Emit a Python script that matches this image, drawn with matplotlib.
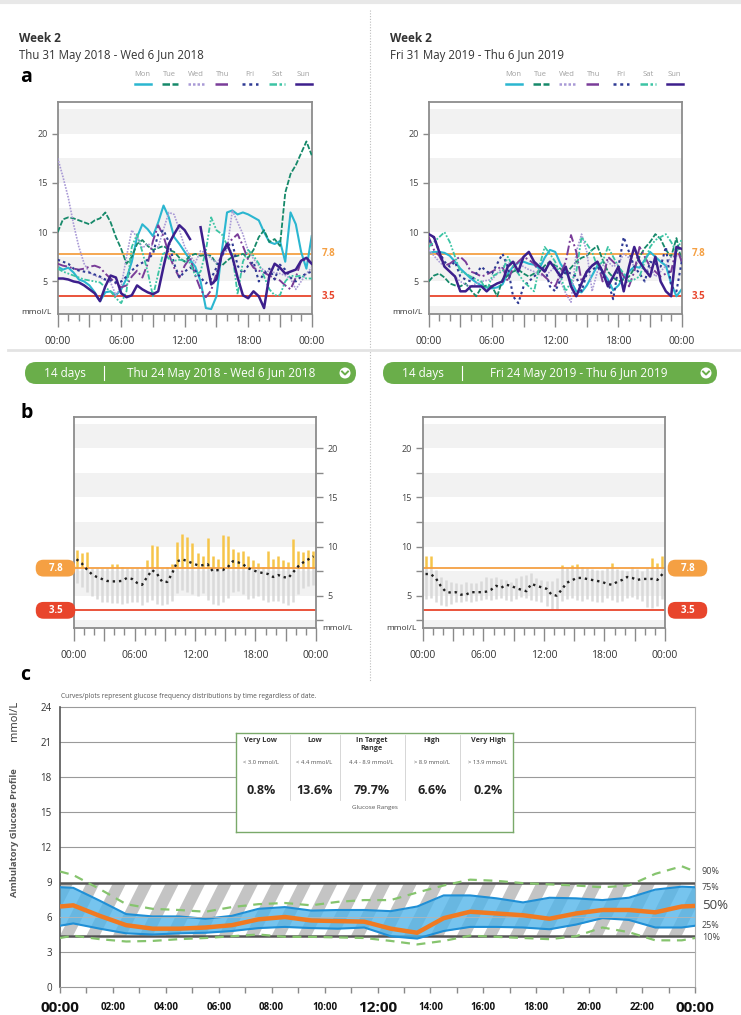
import numpy as np
import matplotlib
matplotlib.use('Agg')
import matplotlib.pyplot as plt
from matplotlib.patches import FancyBboxPatch, Polygon, Rectangle, Circle

plt.rcParams['font.family'] = ['Open Sans', 'DejaVu Sans']

W, H = 741, 1015

# ---------------- data ----------------
# panel a : daily traces, one reading every 30 min (00:00 ... 24:00)
t_day = np.arange(0, 24.5, 0.5)
days = ['Mon', 'Tue', 'Wed', 'Thu', 'Fri', 'Sat', 'Sun']

mon_2018 = [6.5, 6.2, 6.4, 5.9, 5.2, 5.0, 4.6, 3.9, 3.0, 3.9, 4.0, 3.6, 4.2, 5.3, 7.0, 9.5, 10.8, 10.3, 9.6, 11.0,
            12.7, 11.5, 9.5, 8.8, 8.0, 7.2, 6.5, 5.0, 2.3, 2.2, 3.5, 8.0, 12.0, 12.2, 11.8, 12.0, 11.8, 11.5, 11.2,
            10.0, 9.0, 8.8, 9.1, 7.0, 12.0, 10.8, 8.0, 6.3, 9.6]
tue_2018 = [10.0, 11.3, 11.5, 11.4, 11.2, 11.0, 10.8, 11.2, 11.4, 12.0, 11.0, 9.5, 8.3, 6.8, 7.5, 8.8, 9.2, 8.6, 8.2,
            8.4, 8.6, 8.2, 8.0, 7.4, 7.0, 7.6, 7.8, 7.6, 7.7, 7.6, 6.8, 6.6, 7.1, 7.5, 7.6, 7.8, 7.4, 8.2, 9.5, 10.2,
            9.0, 9.3, 8.6, 14.0, 15.9, 16.8, 18.0, 19.2, 17.8]
wed_2018 = [17.5, 15.6, 13.5, 10.8, 8.5, 6.8, 5.9, 5.6, 5.4, 5.1, 4.9, 3.6, 4.5, 7.5, 10.2, 9.5, 8.4, 8.8, 8.6, 8.5,
            10.3, 12.0, 11.8, 10.2, 8.5, 7.6, 6.9, 8.1, 7.9, 7.3, 6.9, 7.5, 8.2, 12.2, 11.0, 9.8, 8.1, 7.3, 6.6, 6.1,
            6.0, 5.9, 5.8, 5.6, 5.3, 4.2, 5.0, 5.8, 6.4]
thu_2018 = [6.8, 6.6, 6.5, 6.3, 6.2, 6.3, 6.5, 6.6, 6.4, 5.8, 5.3, 4.8, 4.4, 4.6, 5.5, 6.1, 5.4, 6.8, 9.1, 10.7,
            9.6, 7.8, 6.4, 5.4, 6.6, 7.4, 5.6, 4.2, 3.4, 4.1, 5.8, 7.5, 8.8, 9.3, 9.8, 8.6, 7.2, 6.4, 6.1, 5.9, 5.6,
            5.3, 5.1, 4.6, 4.2, 5.4, 7.1, 7.2, 6.8]
fri_2018 = [7.2, 7.0, 6.8, 6.3, 6.1, 6.0, 5.9, 5.7, 5.5, 5.2, 5.1, 4.9, 5.0, 5.5, 6.1, 6.6, 6.9, 7.2, 7.8, 9.8,
            10.2, 9.0, 6.8, 5.4, 6.0, 6.4, 6.1, 5.4, 4.8, 5.3, 6.4, 7.6, 8.6, 8.9, 6.6, 5.8, 6.6, 7.0, 5.0, 5.8,
            6.3, 5.2, 6.7, 6.2, 5.4, 5.0, 5.5, 5.8, 6.0]
sat_2018 = [6.3, 6.0, 5.8, 5.6, 5.4, 5.2, 5.1, 5.0, 4.9, 4.4, 4.0, 3.3, 2.8, 4.0, 8.5, 9.8, 8.0, 6.0, 3.5, 5.8,
            8.0, 7.3, 7.1, 7.2, 7.1, 6.9, 5.6, 6.0, 8.1, 11.5, 10.2, 9.8, 8.7, 7.8, 3.7, 7.0, 8.2, 7.6, 6.8, 5.5,
            4.2, 3.6, 3.6, 5.0, 5.6, 5.5, 5.6, 5.3, 5.3]
sun_2018 = [5.3, 5.3, 5.2, 5.0, 4.9, 4.6, 4.2, 3.8, 3.0, 4.5, 5.6, 5.4, 3.8, 3.4, 3.6, 4.6, 4.2, 3.9, 3.7, 4.0,
            6.5, 8.8, 9.8, 10.7, 10.2, 9.3, np.nan, 10.5, 7.5, 4.7, 5.2, 7.8, 8.8, 7.5, 5.4, 3.6, 3.3, 4.0, 3.5,
            2.3, 5.6, 6.8, 6.4, 5.8, 6.0, 6.2, 7.1, 7.4, 6.8]

mon_2019 = [7.9, 8.0, 8.0, 7.9, 7.6, 7.0, 6.3, 5.8, 5.3, 4.9, 4.6, 4.4, 4.3, 4.4, 4.7, 5.8, 6.5, 6.9, 7.0, 6.8,
            6.7, 6.3, 7.4, 8.2, 8.0, 6.8, 6.0, 5.0, 4.0, 3.9, 4.6, 5.6, 6.6, 6.0, 5.2, 4.1, 4.6, 5.4, 6.0, 6.5,
            6.4, 7.2, 8.0, 7.5, 7.0, 6.6, 4.8, 3.5, 4.2]
tue_2019 = [5.0, 5.6, 5.8, 5.4, 4.8, 4.6, 4.5, 4.8, 4.1, 3.5, 4.4, 4.6, 4.5, 3.5, 5.2, 5.6, 6.0, 6.2, 5.8, 5.5,
            5.8, 6.0, 6.6, 7.0, 6.6, 6.3, 5.8, 6.4, 7.0, 7.4, 7.6, 8.2, 8.6, 7.2, 6.0, 5.4, 5.0, 5.2, 5.5, 6.3,
            7.5, 8.4, 9.0, 9.8, 9.3, 8.2, 7.5, 9.4, 7.0]
wed_2019 = [8.2, 7.6, 7.0, 6.5, 6.0, 5.5, 5.0, 4.7, 4.5, 4.8, 5.0, 5.1, 5.2, 5.8, 6.5, 6.8, 7.0, 6.8, 6.5, 6.2,
            6.0, 5.7, 5.5, 6.0, 6.5, 5.0, 3.8, 2.9, 8.0, 9.8, 8.0, 4.0, 6.0, 6.6, 7.0, 6.5, 6.8, 7.8, 7.4, 6.5,
            7.2, 6.0, 6.4, 5.5, 6.0, 6.6, 7.5, 7.6, 7.5]
thu_2019 = [9.5, 8.2, 7.6, 6.6, 6.8, 7.2, 7.5, 7.0, 6.0, 5.8, 5.5, 5.7, 6.0, 6.3, 6.5, 5.0, 6.4, 7.0, 7.5, 7.2,
            6.8, 6.0, 5.5, 5.0, 4.5, 5.8, 7.0, 9.7, 8.0, 5.0, 6.0, 6.6, 7.0, 5.0, 7.5, 7.0, 6.5, 5.5, 4.5, 6.0,
            8.5, 7.5, 6.5, 6.0, 5.5, 5.8, 6.0, 8.5, 7.0]
fri_2019 = [9.0, 9.5, 8.0, 7.0, 6.5, 7.0, 5.5, 5.2, 5.0, 5.8, 6.5, 6.0, 5.8, 6.8, 7.8, 6.5, 3.5, 2.8, 4.5, 5.0,
            5.5, 6.0, 6.5, 4.5, 4.0, 5.2, 6.0, 5.8, 5.5, 4.0, 5.8, 6.2, 6.5, 5.8, 5.0, 3.2, 6.5, 9.5, 8.0, 6.5,
            5.8, 5.0, 7.0, 6.8, 6.5, 8.5, 4.5, 4.0, 7.0]
sat_2019 = [8.5, 9.0, 9.5, 10.0, 9.0, 7.5, 6.0, 5.8, 5.5, 5.2, 5.0, 4.0, 5.5, 5.8, 6.0, 7.5, 6.5, 5.8, 5.0, 4.5,
            4.0, 6.5, 8.5, 7.8, 7.0, 5.5, 4.0, 5.0, 6.0, 9.5, 8.8, 8.0, 6.5, 7.0, 8.5, 7.5, 6.5, 5.8, 5.0, 5.2,
            5.5, 7.0, 8.5, 9.2, 9.5, 9.8, 9.0, 8.0, 9.3]
sun_2019 = [9.8, 9.5, 8.0, 6.5, 6.0, 5.5, 4.0, 4.0, 4.5, 4.5, 4.5, 4.0, 4.5, 4.8, 5.0, 6.5, 7.0, 6.0, 7.5, 8.0,
            7.0, 6.5, 6.0, 7.0, 6.3, 5.5, 6.5, 4.5, 3.5, 4.8, 6.0, 6.6, 7.0, 6.0, 4.5, 5.5, 6.5, 4.0, 6.5, 8.5,
            7.0, 6.2, 5.5, 7.5, 5.0, 4.0, 3.5, 8.5, 8.3]

# panel b : 14-day distribution per 30-min slot
t_slot = np.arange(0.25, 24, 0.5)
b2018_high = [9.6, 9.3, 9.4, 7.8, 7.8, 7.8, 7.8, 8.2, 8.2, 7.9, 7.8, 7.8, 7.8, 7.8, 8.6, 10.2, 10.1, 7.8, 7.9, 8.2,
              10.5, 11.3, 11.0, 10.4, 9.3, 9.0, 10.9, 9.0, 8.7, 11.2, 11.1, 9.7, 9.4, 9.5, 9.0, 8.6, 8.3, 7.9,
              9.5, 8.7, 9.0, 8.6, 8.4, 10.8, 9.5, 9.4, 9.6, 9.5]
b2018_low = [6.3, 5.9, 5.4, 5.0, 4.7, 4.4, 4.3, 4.2, 4.2, 4.1, 4.2, 4.3, 4.4, 4.0, 4.3, 4.6, 4.1, 4.0, 4.1, 4.5,
             5.3, 5.6, 5.4, 5.2, 5.0, 5.3, 4.6, 4.1, 4.0, 4.4, 4.8, 5.4, 5.5, 5.2, 4.7, 4.8, 5.0, 4.6, 4.3, 4.5,
             4.5, 4.2, 4.0, 4.3, 5.2, 5.8, 6.0, 6.1]
b2018_mid = [8.7, 8.3, 7.7, 7.2, 6.9, 6.7, 6.5, 6.45, 6.45, 6.5, 6.8, 6.7, 6.3, 6.1, 6.9, 7.6, 7.2, 6.4, 6.4, 7.3,
             8.5, 8.7, 8.5, 8.3, 8.1, 8.1, 8.2, 7.5, 7.6, 7.6, 7.9, 8.5, 8.4, 8.2, 7.8, 7.6, 7.4, 7.3, 7.2, 6.9,
             7.1, 6.9, 6.8, 7.4, 8.0, 8.4, 8.7, 9.0]
b2019_high = [9.0, 9.0, 7.6, 6.9, 6.6, 6.4, 6.3, 6.2, 6.4, 6.3, 6.3, 6.5, 6.9, 6.8, 6.9, 6.7, 6.6, 6.4, 6.8, 7.0,
              7.1, 7.3, 6.8, 6.6, 6.5, 6.5, 6.8, 8.1, 7.8, 8.1, 8.2, 7.9, 7.8, 7.7, 7.6, 7.6, 7.8, 8.3, 7.7, 7.6,
              7.5, 7.9, 7.7, 7.5, 7.8, 8.8, 8.3, 9.0]
b2019_low = [4.7, 4.8, 4.4, 4.0, 3.9, 4.1, 4.3, 4.4, 4.5, 4.4, 4.5, 4.6, 4.7, 4.6, 4.7, 4.8, 4.6, 4.5, 4.7, 4.9,
             4.8, 4.6, 4.5, 4.3, 3.9, 3.6, 3.6, 4.5, 4.7, 4.8, 4.6, 4.5, 4.7, 4.5, 4.3, 4.4, 4.8, 4.6, 4.4, 4.5,
             4.8, 4.9, 4.7, 4.5, 3.8, 3.7, 3.9, 4.7]
b2019_mid = [7.2, 7.2, 6.8, 6.0, 5.4, 5.3, 5.35, 5.1, 5.1, 5.35, 5.35, 5.35, 5.4, 5.6, 6.0, 5.8, 6.1, 6.0, 5.75,
             5.6, 5.45, 6.2, 6.0, 5.85, 5.7, 5.1, 5.0, 5.6, 6.3, 6.55, 6.8, 6.8, 6.7, 6.6, 6.5, 6.4, 6.2, 6.1,
             6.4, 6.6, 6.9, 6.8, 6.6, 6.7, 6.7, 6.7, 6.6, 7.2]

# panel c : ambulatory glucose profile percentiles
agp_hours = [0, 0.5, 1.5, 2.5, 3.5, 4.5, 5.5, 6.5, 7.5, 8.5, 9.5, 10.5, 11.5, 12.5, 13.5, 14.5, 15.5, 16.5,
             17.5, 18.5, 19.5, 20.5, 21.5, 22.5, 23.5, 24]
agp_p90 = [9.9, 9.6, 8.4, 7.1, 6.7, 6.6, 6.45, 6.85, 7.1, 7.2, 7.0, 7.3, 7.45, 7.45, 8.1, 8.7, 9.2, 9.1, 8.9,
           8.8, 8.7, 8.55, 8.7, 9.7, 10.35, 9.9]
agp_p75 = [8.55, 8.5, 7.4, 6.25, 6.05, 6.05, 5.85, 6.1, 6.7, 6.85, 6.55, 6.6, 6.6, 6.5, 6.9, 7.85, 7.85, 7.6,
           7.25, 7.65, 7.6, 7.45, 7.65, 8.35, 8.6, 8.55]
agp_p50 = [6.9, 7.0, 6.1, 5.3, 5.0, 5.0, 5.1, 5.3, 5.8, 6.0, 5.7, 5.65, 5.6, 5.0, 4.65, 5.9, 6.45, 6.3, 6.15,
           5.85, 6.3, 6.6, 6.6, 6.4, 6.9, 6.95]
agp_p25 = [5.25, 5.45, 5.0, 4.6, 4.5, 4.6, 4.65, 4.8, 5.05, 5.15, 5.05, 5.0, 5.1, 4.35, 4.15, 4.8, 5.15, 5.15,
           5.1, 4.95, 5.35, 5.9, 5.75, 5.1, 5.1, 5.25]
agp_p10 = [4.2, 4.4, 4.1, 3.9, 3.95, 4.1, 4.2, 4.35, 4.5, 4.3, 4.3, 4.25, 4.2, 3.95, 3.65, 3.95, 4.4, 4.3, 4.2,
           4.1, 4.35, 5.1, 4.7, 4.0, 4.0, 4.2]

range_names = ['Very Low', 'Low', 'In Target\nRange', 'High', 'Very High']
range_limits = ['< 3.0 mmol/L', '< 4.4 mmol/L', '4.4 - 8.9 mmol/L', '> 8.9 mmol/L', '> 13.9 mmol/L']
range_pct = ['0.8%', '13.6%', '79.7%', '6.6%', '0.2%']

hi_line, lo_line = 7.8, 3.5
agp_lo, agp_hi = 4.4, 8.9

ORANGE = '#f5a043'
RED = '#e8452c'
GREEN = '#6aae4a'
day_colors = ['#2bb6d0', '#16896a', '#a99ad6', '#7a3d99', '#2f3a94', '#3cc4a4', '#3d1f8c']
day_dash = ['-', (0, (3, 1)), (0, (1, 0.8)), (0, (5, 1.5, 1, 1.5)), (0, (1.2, 1.5)),
            (0, (3, 1, 1, 1, 1, 1)), '-']
day_lw = [1.5, 1.3, 1.2, 1.4, 1.5, 1.3, 1.8]


def px_box(x0, y0, x1, y1):
    return [x0 / W, 1 - y1 / H, (x1 - x0) / W, (y1 - y0) / H]


fig = plt.figure(figsize=(W / 100, H / 100), dpi=100)
bg = fig.add_axes([0, 0, 1, 1])
bg.set_xlim(0, W)
bg.set_ylim(H, 0)
bg.axis('off')

# page decorations
bg.plot([0, W], [2, 2], color='#e8e8e8', lw=3)
bg.plot([370, 370], [10, 682], color='#bdbdbd', lw=0.8, ls=(0, (1, 1.5)))
bg.plot([8, W], [350, 350], color='#e3e3e3', lw=2)


def band_bg(ax):
    for lo in (0, 5, 10, 15, 20):
        ax.axhspan(lo, lo + 2.5, color='#f2f2f2', lw=0, zorder=0)


def time_axis(ax):
    ax.set_xlim(0, 24)
    ax.set_ylim(1.7, 23.2)
    ax.set_xticks(range(0, 25, 3))
    ax.set_xticklabels(['00:00', '', '06:00', '', '12:00', '', '18:00', '', '00:00'])
    ax.set_xticks(range(25), minor=True)
    ax.tick_params(axis='x', which='major', length=9, width=1, color='#8a8a8a', pad=7,
                   labelsize=7.5, labelcolor='#333333')
    ax.tick_params(axis='x', which='minor', length=5, width=1, color='#8a8a8a')
    for s in ax.spines.values():
        s.set_color('#8c8c8c')
        s.set_linewidth(1.3)


def week_panel(x0, x1, traces, title, unit_x):
    ax = fig.add_axes(px_box(x0, 102, x1, 314))
    band_bg(ax)
    time_axis(ax)
    ax.axhline(hi_line, color=ORANGE, lw=1.3, zorder=1)
    ax.axhline(lo_line, color=RED, lw=1.3, zorder=1)
    for i, d in enumerate(days):
        ax.plot(t_day, traces[i], color=day_colors[i], ls=day_dash[i], lw=day_lw[i], zorder=2 + i)
    ax.set_yticks([5, 10, 15, 20])
    ax.tick_params(axis='y', length=4, width=1, color='#8a8a8a', labelsize=6.5, labelcolor='#444444', pad=3)
    tr = ax.get_yaxis_transform()
    ax.text(1.04, hi_line, str(hi_line), transform=tr, color=ORANGE, fontsize=7, fontweight='bold', va='center')
    ax.text(1.04, lo_line, str(lo_line), transform=tr, color=RED, fontsize=7, fontweight='bold', va='center')
    bg.text(unit_x, 312, 'mmol/L', fontsize=6, ha='center', va='center', color='#333333')
    # header
    bg.text(x0 - 39, 38, 'Week 2', fontsize=8.5, fontweight='bold', color='#333333', va='center')
    bg.text(x0 - 39, 55, title, fontsize=8.3, color='#333333', va='center')
    for i, d in enumerate(days):
        cx = x0 + 85 + i * 26.8
        bg.text(cx, 74, d, fontsize=5.5, color='#a0a0a0', ha='center', va='center')
        bg.plot([cx - 8, cx + 8], [84, 84], color=day_colors[i], ls=day_dash[i], lw=1.8)
    return ax


week_panel(57.7, 311.7, [mon_2018, tue_2018, wed_2018, thu_2018, fri_2018, sat_2018, sun_2018],
           'Thu 31 May 2018 - Wed 6 Jun 2018', 36)
week_panel(428.7, 681.7, [mon_2019, tue_2019, wed_2019, thu_2019, fri_2019, sat_2019, sun_2019],
           'Fri 31 May 2019 - Thu 6 Jun 2019', 407)
bg.text(20, 77, 'a', fontsize=14, fontweight='bold', va='center')


# period selectors
def period_pill(x0, x1, label):
    bg.add_patch(FancyBboxPatch((x0, 362), x1 - x0, 22, boxstyle='round,pad=0,rounding_size=11',
                                fc=GREEN, ec='none'))
    bg.text(x0 + 40, 373, '14 days', color='white', fontsize=8.5, ha='center', va='center')
    bg.plot([x0 + 79, x0 + 79], [366, 380], color='white', lw=0.8)
    bg.text(x0 + 196, 373, label, color='white', fontsize=8.5, ha='center', va='center')
    bg.add_patch(Circle((x1 - 11, 373), 5.5, fc='white', ec='none'))
    bg.plot([x1 - 14, x1 - 11, x1 - 8], [371.5, 374.5, 371.5], color=GREEN, lw=1.4)


period_pill(25, 356, 'Thu 24 May 2018 - Wed 6 Jun 2018')
period_pill(383, 717, 'Fri 24 May 2019 - Thu 6 Jun 2019')


def dist_panel(x0, x1, high, low, mid, side, unit_x):
    ax = fig.add_axes(px_box(x0, 417, x1, 628))
    band_bg(ax)
    time_axis(ax)
    high = np.array(high)
    low = np.array(low)
    ax.vlines(t_slot, low, np.minimum(high, hi_line), color='#dadada', lw=1.8, zorder=1)
    over = high > hi_line
    ax.vlines(t_slot[over], hi_line, high[over], color='#f6c54a', lw=1.8, zorder=1)
    ax.axhline(hi_line, color=ORANGE, lw=1.3, zorder=2)
    ax.axhline(lo_line, color=RED, lw=1.3, zorder=2)
    ax.plot(t_slot, mid, color='#222222', ls=':', lw=1.7, zorder=3)
    ax.set_yticks([5, 10, 15, 20])
    ax.set_yticks([2.5, 7.5, 12.5, 17.5], minor=True)
    if side == 'right':
        ax.yaxis.tick_right()
        pill_x = -0.0764
    else:
        pill_x = 1.093
    ax.tick_params(axis='y', which='both', length=5, width=1, color='#8a8a8a', labelsize=6.5,
                   labelcolor='#444444', pad=3)
    tr = ax.get_yaxis_transform()
    for v, c in ((hi_line, ORANGE), (lo_line, RED)):
        ax.text(pill_x, v, '    %s    ' % v, transform=tr, color='white', fontsize=7, fontweight='bold',
                ha='center', va='center', clip_on=False,
                bbox=dict(boxstyle='round,pad=0.3,rounding_size=0.8', fc=c, ec='none'))
    bg.text(unit_x, 628, 'mmol/L', fontsize=6, ha='center', va='center', color='#333333')
    return ax


dist_panel(74, 316, b2018_high, b2018_low, b2018_mid, 'right', 337)
dist_panel(423, 665, b2019_high, b2019_low, b2019_mid, 'left', 401)
bg.text(20, 413, 'b', fontsize=14, fontweight='bold', va='center')

# ---------------- panel c : AGP ----------------
bg.text(20, 675, 'c', fontsize=14, fontweight='bold', va='center')
bg.text(61, 697, 'Curves/plots represent glucose frequency distributions by time regardless of date.',
        fontsize=4.8, color='#555555', va='center')
bg.text(15, 721, 'mmol/L', fontsize=8, rotation=90, ha='center', va='center', color='#333333')
bg.text(15, 833, 'Ambulatory Glucose Profile', fontsize=6.8, fontweight='bold', rotation=90,
        ha='center', va='center', color='#555555')

ac = fig.add_axes(px_box(60, 707, 695, 987))
ac.set_xlim(0, 24)
ac.set_ylim(0, 24)
for v in (3, 12, 15, 18, 21, 24):
    ac.axhline(v, color='#9a9a9a', lw=0.8, zorder=1, clip_on=False)

# target range band with diagonal stripes
clip = Rectangle((0, agp_lo), 24, agp_hi - agp_lo, transform=ac.transData)
for k in np.arange(-2, 24, 1.0):
    stripe = Polygon([(k, agp_lo), (k + 0.5, agp_lo), (k + 1.5, agp_hi), (k + 1.0, agp_hi)],
                     fc='#c4c4c4', ec='none', zorder=1)
    ac.add_patch(stripe)
    stripe.set_clip_path(clip)
ac.axhline(agp_lo, color='#555555', lw=1.8, zorder=2)
ac.axhline(agp_hi, color='#555555', lw=1.8, zorder=2)

ac.fill_between(agp_hours, agp_p25, agp_p75, color='#4fb4ea', alpha=0.78, lw=0, zorder=3)
ac.plot(agp_hours, agp_p75, color='#1f8fd6', lw=1.5, zorder=4)
ac.plot(agp_hours, agp_p25, color='#1f8fd6', lw=1.5, zorder=4)
ac.axhline(6, color='#b5b5b5', lw=0.6, zorder=4)
ac.plot(agp_hours, agp_p90, color='#86c46e', lw=1.6, ls=(0, (4, 3)), zorder=5)
ac.plot(agp_hours, agp_p10, color='#86c46e', lw=1.6, ls=(0, (4, 3)), zorder=5)
ac.plot(agp_hours, agp_p50, color='#f07a22', lw=3.2, zorder=6, solid_capstyle='butt')

for lab, ser, fs in (('90%', agp_p90, 6.5), ('75%', agp_p75, 6.5), ('50%', agp_p50, 9.5),
                     ('25%', agp_p25, 6.5), ('10%', agp_p10, 6.5)):
    ac.text(24.26, ser[-1], lab, fontsize=fs, color='#444444', va='center', clip_on=False)

ac.set_yticks(range(0, 25, 3))
ac.tick_params(axis='y', length=0, pad=6, labelsize=7, labelcolor='#333333')
ac.set_xticks(range(25))
ac.set_xticklabels([])
ac.tick_params(axis='x', length=4, width=1, color='#888888')
xt = ac.get_xaxis_transform()
for h in range(0, 25, 2):
    big = h in (0, 12, 24)
    ac.text(h, -0.075, '%02d:00' % (h % 24), transform=xt, ha='center', va='center',
            fontsize=11 if big else 7, fontweight='bold', color='#111111')
ac.spines['top'].set_visible(False)
ac.spines['left'].set_color('#555555')
ac.spines['left'].set_linewidth(1.2)
ac.spines['bottom'].set_color('#999999')
ac.spines['right'].set_color('#b0b0b0')

# glucose ranges summary box
sb = fig.add_axes(px_box(236, 733, 513, 832), zorder=5)
sb.set_xlim(236, 513)
sb.set_ylim(832, 733)
sb.set_xticks([])
sb.set_yticks([])
for s in sb.spines.values():
    s.set_color('#7aa96a')
    s.set_linewidth(1)
col_x = [261, 314.5, 371.5, 432, 488]
for x in (290, 340, 405, 460):
    sb.plot([x, x], [735, 800], color='#d0d0d0', lw=0.6)
for i in range(5):
    sb.text(col_x[i], 737, range_names[i], fontsize=5.2, fontweight='bold', color='#333333',
            ha='center', va='top', linespacing=1.3)
    sb.text(col_x[i], 763, range_limits[i], fontsize=4.2, color='#555555', ha='center', va='center')
    sb.text(col_x[i], 791, range_pct[i], fontsize=9, fontweight='bold', color='#222222',
            ha='center', va='center')
sb.text(375, 808, 'Glucose Ranges', fontsize=4.5, color='#555555', ha='center', va='center')

fig.savefig('out.png', dpi=100)
